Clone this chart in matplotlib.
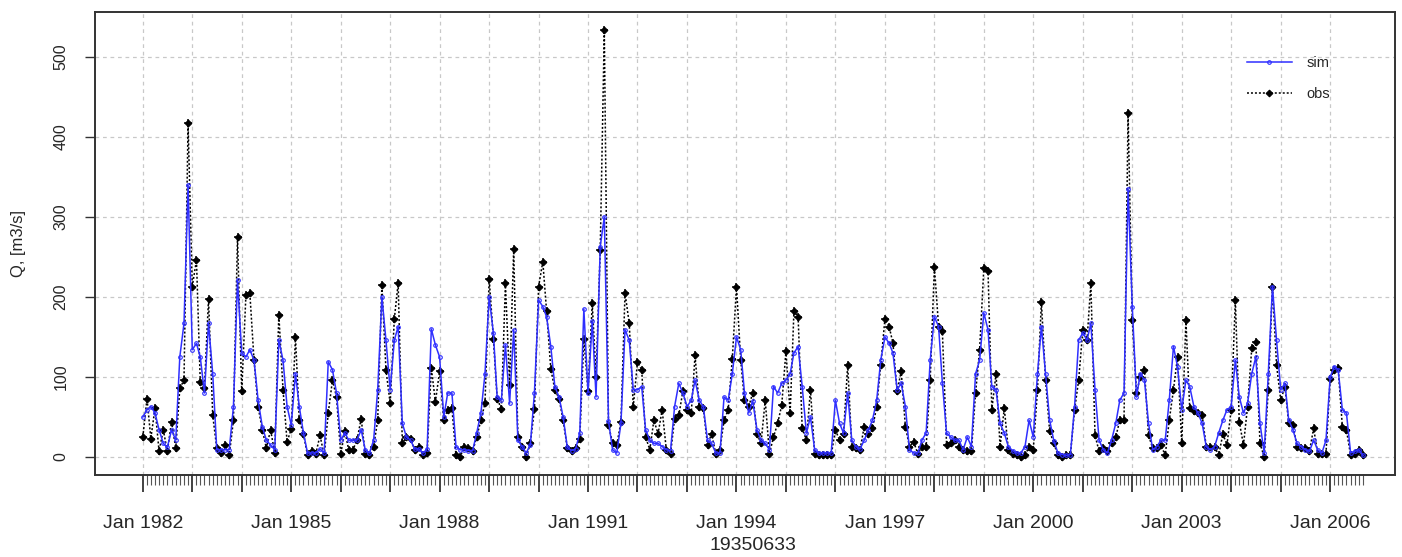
import matplotlib
matplotlib.use("Agg")
import matplotlib.pyplot as plt
import matplotlib.dates as mdates
from matplotlib.ticker import FixedLocator, FixedFormatter
import numpy as np
import pandas as pd

# ---------------- data (monthly, Jan 1982 .. Sep 2006) ----------------
start_month = "1982-01-01"
n_months = 297

obs = [
    # 1982
    25, 73, 23, 61, 7, 34, 7, 44, 11, 86, 96, 417,
    # 1983
    213, 246, 94, 86, 198, 52, 11, 5, 15, 2, 46, 275,
    # 1984
    82, 202, 205, 121, 63, 34, 11, 34, 5, 178, 84, 19,
    # 1985
    35, 150, 46, 29, 2, 7, 4, 27, 2, 55, 96, 75,
    # 1986
    4, 32, 9, 9, 21, 48, 4, 2, 13, 46, 215, 109,
    # 1987
    67, 173, 217, 17, 25, 23, 9, 13, 2, 5, 111, 69,
    # 1988
    107, 46, 59, 61, 2, 0, 13, 11, 7, 25, 46, 67,
    # 1989
    223, 148, 73, 60, 217, 90, 260, 25, 13, 0, 17, 60,
    # 1990
    213, 244, 182, 110, 84, 73, 46, 11, 7, 11, 23, 148,
    # 1991
    82, 192, 100, 259, 533, 40, 17, 15, 44, 205, 167, 63,
    # 1992
    119, 109, 25, 9, 46, 29, 59, 9, 4, 48, 52, 82,
    # 1993
    59, 55, 127, 63, 61, 15, 29, 4, 9, 46, 59, 123,
    # 1994
    213, 121, 71, 63, 80, 29, 17, 71, 4, 25, 42, 65,
    # 1995
    132, 55, 182, 175, 36, 21, 84, 4, 2, 2, 2, 2,
    # 1996
    34, 21, 29, 115, 13, 11, 9, 38, 29, 36, 63, 115,
    # 1997
    173, 163, 142, 82, 107, 38, 13, 19, 4, 13, 13, 96,
    # 1998
    238, 163, 157, 15, 17, 21, 13, 9, 7, 7, 80, 134,
    # 1999
    236, 232, 59, 104, 13, 61, 9, 4, 2, 0, 2, 13,
    # 2000
    9, 84, 194, 96, 32, 17, 2, 0, 2, 2, 59, 96,
    # 2001
    159, 146, 217, 27, 7, 11, 7, 17, 25, 46, 46, 430,
    # 2002
    171, 80, 100, 109, 27, 11, 11, 15, 2, 46, 84, 125,
    # 2003
    17, 171, 61, 57, 55, 52, 13, 13, 13, 2, 29, 15,
    # 2004
    59, 196, 44, 15, 63, 136, 144, 17, 0, 84, 213, 115,
    # 2005
    71, 88, 42, 40, 13, 11, 11, 7, 36, 4, 4, 4,
    # 2006
    98, 109, 111, 38, 34, 2, 4, 9, 2,
]

sim = [
    # 1982
    50, 59, 63, 55, 34, 17, 12, 34, 21, 125, 167, 340,
    # 1983
    134, 142, 125, 80, 167, 104, 9, 9, 9, 9, 63, 221,
    # 1984
    130, 125, 134, 121, 71, 38, 21, 15, 9, 146, 121, 63,
    # 1985
    40, 104, 63, 30, 5, 5, 5, 10, 5, 119, 109, 80,
    # 1986
    21, 30, 21, 21, 21, 34, 9, 5, 21, 84, 200, 146,
    # 1987
    84, 146, 163, 42, 25, 21, 10, 10, 5, 10, 160, 140,
    # 1988
    125, 50, 80, 80, 13, 9, 9, 8, 8, 30, 55, 104,
    # 1989
    200, 155, 75, 71, 140, 67, 159, 21, 13, 5, 15, 80,
    # 1990
    196, 188, 175, 138, 88, 75, 50, 12, 8, 10, 30, 185,
    # 1991
    80, 170, 75, 263, 300, 45, 9, 5, 42, 159, 146, 84,
    # 1992
    84, 88, 34, 21, 17, 17, 13, 9, 8, 63, 92, 80,
    # 1993
    63, 71, 96, 71, 63, 21, 17, 5, 5, 75, 71, 104,
    # 1994
    150, 134, 80, 55, 70, 34, 21, 17, 9, 88, 80, 92,
    # 1995
    96, 104, 130, 138, 88, 30, 50, 9, 5, 5, 5, 5,
    # 1996
    71, 42, 30, 80, 21, 13, 10, 21, 34, 46, 71, 121,
    # 1997
    150, 142, 130, 84, 92, 63, 9, 5, 5, 21, 30, 121,
    # 1998
    175, 163, 92, 30, 25, 21, 21, 9, 25, 13, 104, 121,
    # 1999
    180, 159, 88, 84, 42, 30, 13, 8, 5, 5, 13, 46,
    # 2000
    25, 104, 163, 104, 46, 20, 5, 3, 2, 3, 63, 146,
    # 2001
    155, 146, 167, 84, 21, 9, 5, 21, 42, 71, 80, 335,
    # 2002
    188, 75, 104, 96, 42, 9, 13, 21, 21, 71, 138, 113,
    # 2003
    59, 96, 88, 63, 55, 42, 13, 9, 13, 30, 46, 59,
    # 2004
    63, 121, 75, 55, 67, 104, 125, 42, 5, 104, 213, 146,
    # 2005
    84, 92, 46, 34, 17, 13, 9, 7, 21, 9, 5, 21,
    # 2006
    100, 113, 109, 59, 55, 5, 7, 9, 2,
]

y_ticks = [0, 100, 200, 300, 400, 500]
label_years = [1982, 1985, 1988, 1991, 1994, 1997, 2000, 2003, 2006]
station = "19350633"
y_label = "Q, [m3/s]"
series_names = ["sim", "obs"]

# ---------------- figure ----------------
W, H = 1402, 557
plt.rcParams["font.family"] = ["Liberation Sans", "DejaVu Sans"]
fig = plt.figure(figsize=(W / 100, H / 100), dpi=100)

left, right, top, bottom = 95, 1395, 12, 475
ax = fig.add_axes([left / W, 1 - bottom / H, (right - left) / W, (bottom - top) / H])

dates = pd.date_range(start_month, periods=n_months, freq="MS")
xd = mdates.date2num(dates.to_pydatetime())

txt = "#262626"

# grid
years = list(range(1982, 2007))
year_pos = mdates.date2num([pd.Timestamp(f"{y}-01-01").to_pydatetime() for y in years])
for yp in year_pos:
    ax.axvline(yp, color="#c8c8c8", lw=0.9, ls=(0, (3, 3)), zorder=0)
for yt in y_ticks:
    ax.axhline(yt, color="#c8c8c8", lw=0.9, ls=(0, (3, 3)), zorder=0)

# series
blue = "#2f2fff"
ax.plot(xd, sim, color=blue, lw=1.1, marker="o", ms=2.6, mfc="none",
        mec=blue, mew=0.8, label=series_names[0], zorder=3)
ax.plot(xd, obs, color="black", lw=1.1, ls=(0, (1.3, 1.3)), marker="D", ms=3.4,
        mfc="black", mec="black", mew=0.8, label=series_names[1], zorder=2)
ax.plot(xd, obs, ls="none", marker="+", ms=5.5, mec="black", mew=1.1, zorder=2)

# limits
month_days = 30.44
ax.set_xlim(xd[0] - 11.6 * month_days, xd[0] + 303.7 * month_days)
ax.set_ylim(-22.5, 556)

# x ticks
lab = [f"Jan {y}" if y in label_years else "" for y in years]
ax.xaxis.set_major_locator(FixedLocator(year_pos))
ax.xaxis.set_major_formatter(FixedFormatter(lab))
minor_pos = [x for x, d in zip(xd, dates) if d.month != 1]
ax.xaxis.set_minor_locator(FixedLocator(minor_pos))
ax.tick_params(axis="x", which="major", length=12, width=1.3, color="#333333",
               pad=17, labelsize=14, labelcolor=txt)
ax.tick_params(axis="x", which="minor", length=7, width=0.8, color="#555555")

# y ticks
ax.set_yticks(y_ticks)
ax.set_yticklabels([str(v) for v in y_ticks], rotation=90, va="center")
ax.tick_params(axis="y", which="major", length=7, width=1.0, color="#333333",
               pad=12, labelsize=11.5, labelcolor=txt)
ax.set_ylabel(y_label, fontsize=12, color=txt, labelpad=20)

for s in ax.spines.values():
    s.set_linewidth(1.4)
    s.set_color("#333333")

# subtitle
fig.text(753 / W, 1 - 545 / H, station, ha="center", va="center", fontsize=14, color=txt)

# legend
leg = ax.legend(loc="upper right",
                bbox_to_anchor=((1336 - left) / (right - left), 1 - (50 - top) / (bottom - top)),
                frameon=False, fontsize=10.5, handlelength=3.1, labelspacing=1.2,
                handletextpad=1.0, borderaxespad=0)
for t in leg.get_texts():
    t.set_color(txt)

fig.savefig("out.png", dpi=100)
